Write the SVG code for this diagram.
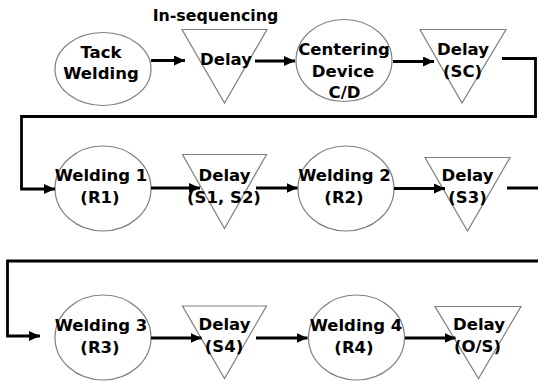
<svg xmlns="http://www.w3.org/2000/svg" width="538" height="382" viewBox="0 0 538 382">
<style>
.ell{fill:#fff;stroke:#7f7f7f;stroke-width:1.2}
.tri{fill:#fff;stroke:#7f7f7f;stroke-width:1.2}
.t{font-family:"DejaVu Sans",sans-serif;font-weight:bold;font-size:16.5px;fill:#000;text-anchor:middle}
.lbl{font-family:"DejaVu Sans",sans-serif;font-weight:bold;font-size:15.8px;fill:#000;text-anchor:middle}
.c{fill:none;stroke:#000;stroke-width:2.8}
</style>
<defs>
<marker id="ah" markerUnits="userSpaceOnUse" markerWidth="11" markerHeight="10" refX="11" refY="5" orient="auto">
<path d="M0,0 L11,5 L0,10 z" fill="#000"/>
</marker>
</defs>
<rect width="538" height="382" fill="#fff"/>
<g id="tack-welding">
<ellipse class="ell" cx="103" cy="69" rx="48" ry="36.5"/>
<text class="t" x="101" y="57.5">Tack</text>
<text class="t" x="101" y="79">Welding</text>
</g>
<g id="delay-in-seq">
<polygon class="tri" points="182,29.5 267,29.5 224.5,103"/>
<text class="t" x="226" y="65">Delay</text>
<text class="lbl" x="215.5" y="21">In-sequencing</text>
</g>
<g id="centering">
<ellipse class="ell" cx="344" cy="60.5" rx="48" ry="41"/>
<text class="t" x="344" y="55">Centering</text>
<text class="t" x="343" y="76.5">Device</text>
<text class="t" x="344.5" y="98">C/D</text>
</g>
<g id="delay-sc">
<polygon class="tri" points="420,29.5 506,29.5 462,103"/>
<text class="t" x="463" y="55">Delay</text>
<text class="t" x="462.5" y="76.5">(SC)</text>
</g>
<g id="welding1">
<ellipse class="ell" cx="103" cy="188.5" rx="48" ry="42.5"/>
<text class="t" x="101" y="181">Welding 1</text>
<text class="t" x="100" y="203">(R1)</text>
</g>
<g id="delay-s1s2">
<polygon class="tri" points="182.5,154.5 266.5,154.5 224.5,228.5"/>
<text class="t" x="224.5" y="181">Delay</text>
<text class="t" x="224" y="202.5">(S1, S2)</text>
</g>
<g id="welding2">
<ellipse class="ell" cx="346" cy="188.5" rx="48" ry="42.5"/>
<text class="t" x="344.5" y="181">Welding 2</text>
<text class="t" x="344" y="203">(R2)</text>
</g>
<g id="delay-s3">
<polygon class="tri" points="425,157.5 510,157.5 467.5,231"/>
<text class="t" x="467.5" y="181">Delay</text>
<text class="t" x="467.5" y="202.5">(S3)</text>
</g>
<g id="welding3">
<ellipse class="ell" cx="103" cy="337.5" rx="48" ry="42.5"/>
<text class="t" x="101" y="331">Welding 3</text>
<text class="t" x="100" y="352.5">(R3)</text>
</g>
<g id="delay-s4">
<polygon class="tri" points="182.5,306 266.5,306 224.5,378.5"/>
<text class="t" x="224.5" y="330">Delay</text>
<text class="t" x="224" y="352">(S4)</text>
</g>
<g id="welding4">
<ellipse class="ell" cx="356.5" cy="337.5" rx="48" ry="42.5"/>
<text class="t" x="356" y="331">Welding 4</text>
<text class="t" x="354" y="352.5">(R4)</text>
</g>
<g id="delay-os">
<polygon class="tri" points="435,306.5 521,306.5 478.5,378.5"/>
<text class="t" x="479" y="330">Delay</text>
<text class="t" x="477.5" y="352">(O/S)</text>
</g>
<g id="connectors">
<path class="c" d="M151,60.5 H185" marker-end="url(#ah)"/>
<path class="c" d="M255,61 H295" marker-end="url(#ah)"/>
<path class="c" d="M393,61.5 H434" marker-end="url(#ah)"/>
<path class="c" d="M502,58.5 H535.5 V116.5 H21.5 V189 H55" marker-end="url(#ah)"/>
<path class="c" d="M151,188 H200" marker-end="url(#ah)"/>
<path class="c" d="M256,188 H297.5" marker-end="url(#ah)"/>
<path class="c" d="M394,188.5 H445" marker-end="url(#ah)"/>
<path class="c" d="M507,188 H548 V261 H7.5 V336 H40" marker-end="url(#ah)"/>
<path class="c" d="M151,338 H201.5" marker-end="url(#ah)"/>
<path class="c" d="M256,338 H307.5" marker-end="url(#ah)"/>
<path class="c" d="M405,338 H455.5" marker-end="url(#ah)"/>
</g>
</svg>
